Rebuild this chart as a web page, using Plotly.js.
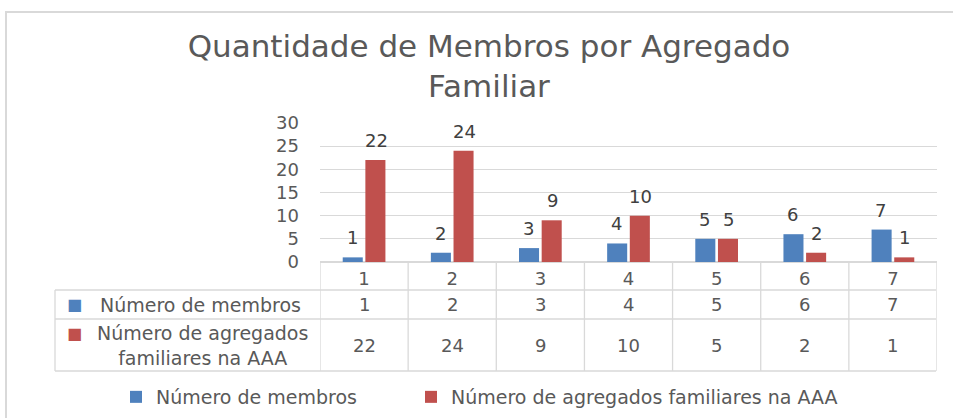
<!DOCTYPE html>
<html>
<head>
<meta charset="utf-8">
<script src="https://cdn.plot.ly/plotly-3.0.1.min.js"></script>
<style>
html,body{margin:0;padding:0;background:#fff;}
#chart{width:953px;height:418px;}
</style>
</head>
<body>
<div id="chart"></div>
<script>
// ---- data ----
const categories = [1, 2, 3, 4, 5, 6, 7];
const categoryLabels = ["1", "2", "3", "4", "5", "6", "7"];
const seriesMembros = [1, 2, 3, 4, 5, 6, 7];
const seriesAgregados = [22, 24, 9, 10, 5, 2, 1];
const seriesNames = ["Número de membros", "Número de agregados familiares na AAA"];
const tableRowLabels = ["Número de membros", "Número de agregados<br>familiares na AAA"];
const yTicks = [0, 5, 10, 15, 20, 25, 30];
const chartTitle = "Quantidade de Membros por Agregado<br>Familiar";

// ---- style ----
const BLUE = "#4F81BD", RED = "#C0504D";
const TXT = "#595959", LBL = "#404040", GRID = "#d9d9d9";
const FONT = "DejaVu Sans";

// layout geometry (pixels)
const W = 953, H = 418;
const L = 320, R = 937, T = 123, B = 262;
const px = p => (p - L) / (R - L);
const py = p => (B - p) / (B - T);

const traces = [
  {type: "bar", x: categories, y: seriesMembros, name: seriesNames[0],
   marker: {color: BLUE}, hoverinfo: "skip", legend: "legend"},
  {type: "bar", x: categories, y: seriesAgregados, name: seriesNames[1],
   marker: {color: RED}, hoverinfo: "skip", legend: "legend2"}
];

const annotations = [];
// data labels above bars
[[seriesMembros, -12], [seriesAgregados, 12]].forEach(([vals, dx]) => {
  vals.forEach((v, i) => annotations.push({
    x: categories[i], y: v, xref: "x", yref: "y", text: String(v),
    showarrow: false, xshift: dx, yshift: 7, xanchor: "center", yanchor: "bottom",
    font: {family: FONT, size: 18, color: LBL}
  }));
});
// table values
const rowCenters = [304.5, 345];
[seriesMembros, seriesAgregados].forEach((vals, r) => {
  vals.forEach((v, i) => annotations.push({
    x: categories[i], y: py(rowCenters[r]), xref: "x", yref: "paper",
    text: String(v), showarrow: false, xanchor: "center", yanchor: "middle",
    font: {family: FONT, size: 18, color: TXT}
  }));
});
// row labels
annotations.push({x: px(200), y: py(304.5), xref: "paper", yref: "paper",
  text: tableRowLabels[0], showarrow: false, xanchor: "center", yanchor: "middle",
  font: {family: FONT, size: 19, color: TXT}});
annotations.push({x: px(202), y: py(345), xref: "paper", yref: "paper",
  text: tableRowLabels[1], showarrow: false, xanchor: "center", yanchor: "middle",
  align: "center", font: {family: FONT, size: 19, color: TXT}});
// legend keys in table
annotations.push({x: px(74), y: py(304), xref: "paper", yref: "paper",
  text: "■", showarrow: false, xanchor: "center", yanchor: "middle",
  font: {family: FONT, size: 16, color: BLUE}});
annotations.push({x: px(74), y: py(333), xref: "paper", yref: "paper",
  text: "■", showarrow: false, xanchor: "center", yanchor: "middle",
  font: {family: FONT, size: 16, color: RED}});

const shapes = [];
const lineStyle = {color: GRID, width: 1.3};
// horizontal table rules
[290, 319, 371].forEach(y => shapes.push({type: "line", xref: "paper", yref: "paper",
  x0: px(55), x1: px(936), y0: py(y), y1: py(y), line: lineStyle}));
// left border of label column
shapes.push({type: "line", xref: "paper", yref: "paper",
  x0: px(55), x1: px(55), y0: py(290), y1: py(371), line: lineStyle});
// vertical rules at category boundaries
for (let k = 0; k <= categories.length; k++) {
  shapes.push({type: "line", xref: "x", yref: "paper",
    x0: categories[0] - 0.5 + k, x1: categories[0] - 0.5 + k,
    y0: py(262), y1: py(371), line: lineStyle});
}
// outer chart frame
shapes.push({type: "rect", xref: "paper", yref: "paper",
  x0: px(6), x1: px(965), y0: py(12), y1: py(430),
  line: {color: GRID, width: 2}, fillcolor: "rgba(0,0,0,0)"});

const legendCommon = {orientation: "h", xanchor: "left", yref: "paper", y: py(397),
  yanchor: "middle", font: {family: FONT, size: 19, color: TXT}, bgcolor: "rgba(0,0,0,0)"};

const layout = {
  width: W, height: H,
  margin: {l: L, r: W - R, t: T, b: H - B, pad: 0, autoexpand: false},
  paper_bgcolor: "#fff", plot_bgcolor: "#fff",
  font: {family: FONT, size: 18, color: TXT},
  title: {text: chartTitle, x: 489 / W, xref: "container", xanchor: "center",
    y: 1 - 57 / H, yref: "container", yanchor: "middle",
    font: {family: FONT, size: 31, color: TXT}},
  barmode: "group", bargap: 0.486, bargroupgap: 0.115,
  xaxis: {range: [0.5, 7.5], tickvals: categories, ticktext: categoryLabels,
    showgrid: false, zeroline: false, showline: false, ticks: "",
    ticklabelstandoff: 4, tickfont: {family: FONT, size: 18, color: TXT},
    fixedrange: true, automargin: false},
  yaxis: {range: [0, 30], tickvals: yTicks, showgrid: true, gridcolor: GRID,
    gridwidth: 1.3, zeroline: true, zerolinecolor: GRID, zerolinewidth: 1.3,
    showline: false, ticks: "", ticklabelstandoff: 20,
    tickfont: {family: FONT, size: 18, color: TXT}, fixedrange: true, automargin: false},
  showlegend: true,
  legend: Object.assign({}, legendCommon, {xref: "paper", x: px(116)}),
  legend2: Object.assign({}, legendCommon, {xref: "paper", x: px(411)}),
  annotations: annotations,
  shapes: shapes
};

Plotly.newPlot("chart", traces, layout, {displayModeBar: false, staticPlot: true});
</script>
</body>
</html>
